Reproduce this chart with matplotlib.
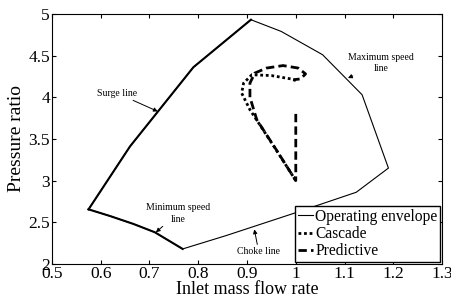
import matplotlib
matplotlib.use("Agg")
import matplotlib.pyplot as plt

plt.rcParams['font.family'] = ['Liberation Serif', 'DejaVu Serif']
plt.rcParams['mathtext.fontset'] = 'stix'

# Operating envelope (closed polygon)
env_x = [0.575, 0.66, 0.79, 0.908, 0.97, 1.055, 1.136, 1.19, 1.124, 1.0, 0.857, 0.768, 0.711, 0.667, 0.619, 0.575]
env_y = [2.655, 3.41, 4.36, 4.93, 4.79, 4.51, 4.03, 3.15, 2.86, 2.615, 2.34, 2.18, 2.38, 2.48, 2.575, 2.655]
# Thicker segments (surge line and minimum speed line)
surge_x = [0.575, 0.66, 0.79, 0.908]
surge_y = [2.655, 3.41, 4.36, 4.93]
minspd_x = [0.575, 0.619, 0.667, 0.711, 0.768]
minspd_y = [2.655, 2.575, 2.48, 2.38, 2.18]

# Cascade trajectory
cas_x = [1.0, 0.953, 0.906, 0.889, 0.893, 0.91, 0.95, 0.99, 1.0]
cas_y = [3.0, 3.43, 3.85, 4.05, 4.17, 4.27, 4.26, 4.22, 4.2]
# Predictive trajectory
pred_x = [1.0, 1.0, 0.96, 0.92, 0.906, 0.906, 0.916, 0.94, 0.974, 1.005, 1.02, 1.01, 0.995]
pred_y = [3.8, 3.0, 3.37, 3.73, 4.0, 4.17, 4.29, 4.35, 4.38, 4.35, 4.28, 4.22, 4.21]

xticks = [0.5, 0.6, 0.7, 0.8, 0.9, 1.0, 1.1, 1.2, 1.3]
xtick_labels = ['0.5', '0.6', '0.7', '0.8', '0.9', '1', '1.1', '1.2', '1.3']
yticks = [2, 2.5, 3, 3.5, 4, 4.5, 5]
ytick_labels = ['2', '2.5', '3', '3.5', '4', '4.5', '5']

fig = plt.figure(figsize=(4.52, 3.02), dpi=100)
ax = fig.add_axes([0.115, 0.126, 0.863, 0.828])

ax.plot(env_x, env_y, color='black', lw=0.8, label='Operating envelope')
ax.plot(surge_x, surge_y, color='black', lw=1.5)
ax.plot(minspd_x, minspd_y, color='black', lw=1.5)
ax.plot(cas_x, cas_y, color='black', lw=2.0, linestyle=(0, (1, 1)), label='Cascade')
ax.plot(pred_x, pred_y, color='black', lw=2.0, linestyle=(0, (3, 1.5)), label='Predictive')

ax.set_xlim(0.5, 1.3)
ax.set_ylim(2, 5)
ax.set_xticks(xticks)
ax.set_xticklabels(xtick_labels)
ax.set_yticks(yticks)
ax.set_yticklabels(ytick_labels)
ax.tick_params(direction='in', top=True, right=True, length=3, width=0.8,
               labelsize=12.5, pad=1.5)
for s in ax.spines.values():
    s.set_linewidth(0.8)
ax.set_xlabel('Inlet mass flow rate', fontsize=13)
ax.set_ylabel('Pressure ratio', fontsize=14)
ax.xaxis.set_label_coords(0.5, -0.07)
ax.yaxis.set_label_coords(-0.09, 0.5)
ax.xaxis.label.set_va('top')
ax.yaxis.label.set_va('center')

ann_kw = dict(fontsize=7, ha='center', va='center',
              arrowprops=dict(arrowstyle='-|>', color='black', lw=0.7,
                              mutation_scale=6, shrinkA=0, shrinkB=0))
ax.annotate('Surge line', xy=(0.717, 3.83), xytext=(0.633, 4.05), **ann_kw)
ax.annotate('Maximum speed\nline', xy=(1.107, 4.23), xytext=(1.175, 4.41),
            linespacing=1.3, **ann_kw)
ax.annotate('Minimum speed\nline', xy=(0.713, 2.38), xytext=(0.758, 2.605),
            linespacing=1.3, **ann_kw)
ax.annotate('Choke line', xy=(0.915, 2.415), xytext=(0.924, 2.147), **ann_kw)

leg = ax.legend(loc='lower right', fontsize=11.2, frameon=True, fancybox=False,
                edgecolor='black', framealpha=1, handlelength=1.0,
                handletextpad=0.12, borderpad=0.15, labelspacing=0.08,
                borderaxespad=0.15)
leg.get_frame().set_linewidth(1.0)

fig.savefig('out.png', dpi=100)
